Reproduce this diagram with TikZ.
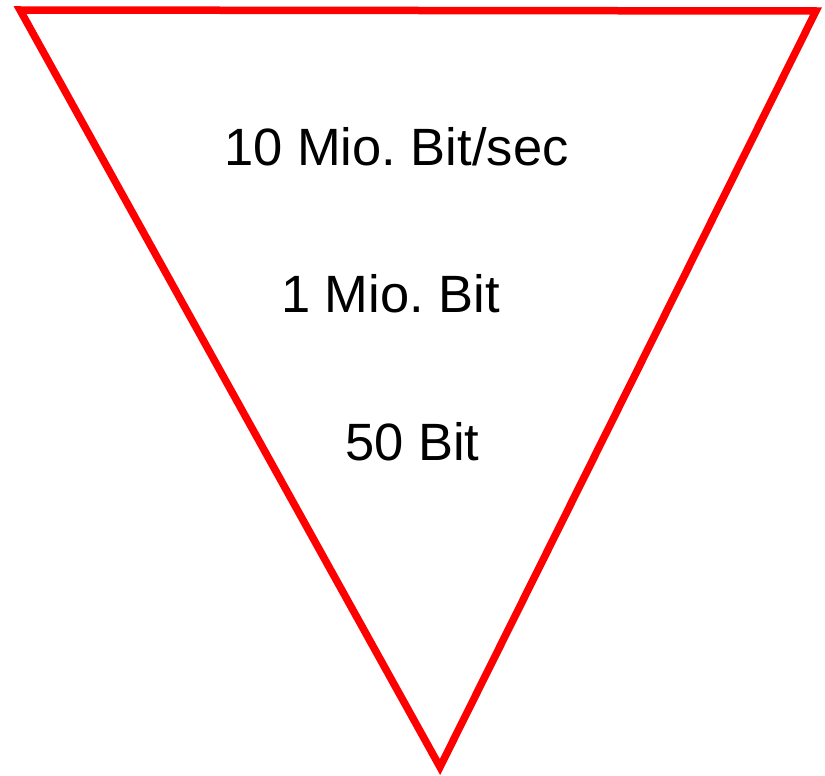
\documentclass[tikz,border=0pt]{standalone}
\usepackage{fontspec}
\setmainfont{Liberation Sans}
\frenchspacing
\begin{document}
\begin{tikzpicture}[x=1pt,y=-1pt,
  funnel/.style={draw=red,line width=7.5pt},
  rate/.style={anchor=base west,inner sep=0pt,font=\fontsize{52.5}{62}\selectfont}]
\useasboundingbox (0,0) rectangle (825,776);
\coordinate (tl) at (20,10);
\coordinate (tr) at (816,11);
\coordinate (bt) at (440,767);
\draw[funnel] (tl) -- (tr) -- (bt) -- cycle;
\node[rate] (r1) at (224,165) {10 Mio. Bit/sec};
\node[rate] (r2) at (281,312) {1 Mio. Bit};
\node[rate] (r3) at (345,460) {50 Bit};
\end{tikzpicture}
\end{document}
